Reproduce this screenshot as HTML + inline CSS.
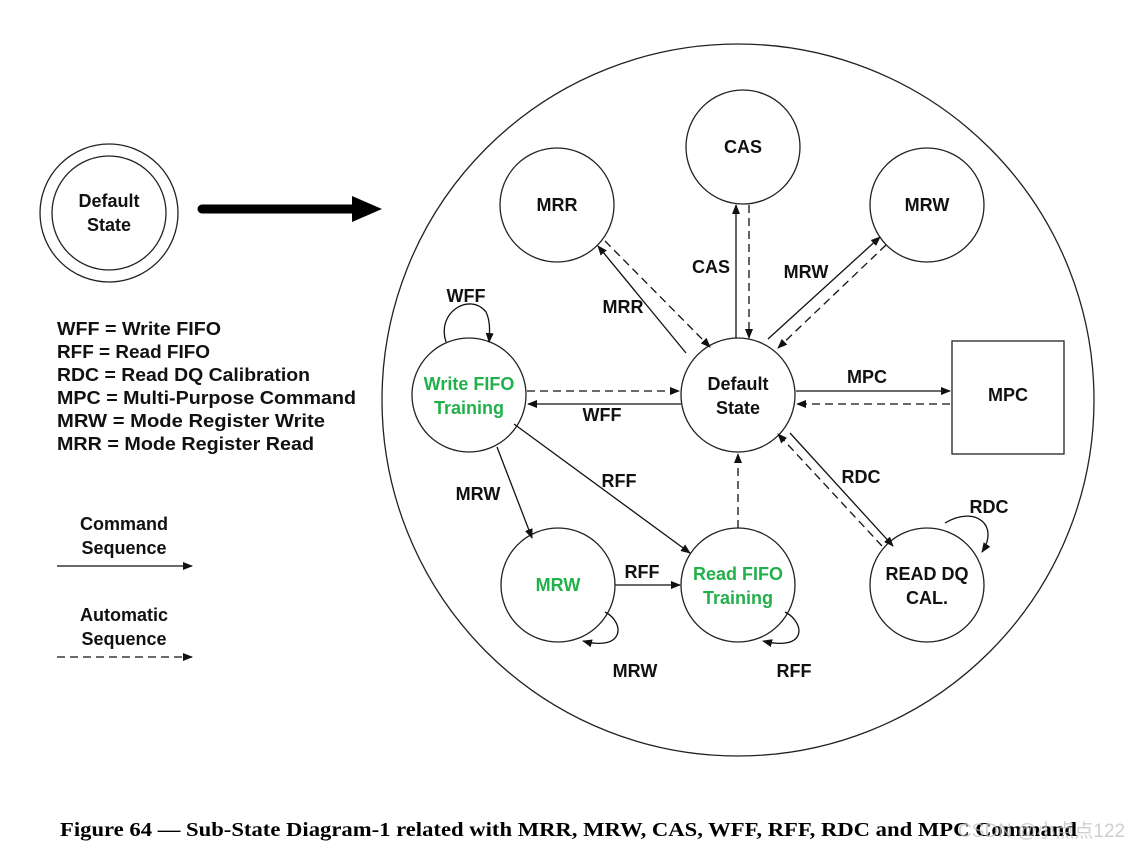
<!DOCTYPE html>
<html><head><meta charset="utf-8"><style>
html,body{margin:0;padding:0;background:#fff;}
svg{display:block;}
text{font-family:"Liberation Sans","Noto Sans CJK SC",sans-serif;font-weight:bold;fill:#111;}
.g{fill:#22b04b;}
</style></head><body>
<svg width="1144" height="849" viewBox="0 0 1144 849" xmlns="http://www.w3.org/2000/svg">
<defs>
<marker id="a" markerWidth="10" markerHeight="8" refX="9" refY="4" orient="auto" markerUnits="userSpaceOnUse">
<path d="M0,0 L10,4 L0,8 z" fill="#111"/></marker>
</defs>
<g fill="none" stroke="#222" stroke-width="1.3">
<circle cx="738" cy="400" r="356"/>
<circle cx="109" cy="213" r="69"/>
<circle cx="109" cy="213" r="57"/>
<circle cx="743" cy="147" r="57"/>
<circle cx="557" cy="205" r="57"/>
<circle cx="927" cy="205" r="57"/>
<circle cx="738" cy="395" r="57"/>
<circle cx="469" cy="395" r="57"/>
<rect x="952" y="341" width="112" height="113"/>
<circle cx="558" cy="585" r="57"/>
<circle cx="738" cy="585" r="57"/>
<circle cx="927" cy="585" r="57"/>
</g>
<line x1="202" y1="209" x2="358" y2="209" stroke="#000" stroke-width="9" stroke-linecap="round"/>
<path d="M352,196 L382,209 L352,222 z" fill="#000"/>
<g stroke="#111" stroke-width="1.3" fill="none" marker-end="url(#a)">
<line x1="686" y1="353" x2="598" y2="246"/>
<line x1="605" y1="241" x2="710" y2="347" stroke-dasharray="8,5"/>
<line x1="736" y1="338" x2="736" y2="205"/>
<line x1="749" y1="205" x2="749" y2="338" stroke-dasharray="8,5"/>
<line x1="768" y1="339" x2="880" y2="237"/>
<line x1="886" y1="245" x2="778" y2="348" stroke-dasharray="8,5"/>
<line x1="527" y1="391" x2="679" y2="391" stroke-dasharray="8,5"/>
<line x1="681" y1="404" x2="528" y2="404"/>
<line x1="796" y1="391" x2="950" y2="391"/>
<line x1="950" y1="404" x2="797" y2="404" stroke-dasharray="8,5"/>
<line x1="790" y1="433" x2="893" y2="546"/>
<line x1="882" y1="546" x2="778" y2="434" stroke-dasharray="8,5"/>
<line x1="497" y1="447" x2="532" y2="538"/>
<line x1="514" y1="424" x2="690" y2="553"/>
<line x1="615" y1="585" x2="680" y2="585"/>
<line x1="738" y1="528" x2="738" y2="454" stroke-dasharray="8,5"/>
<path d="M446,342 C436,312 470,292 486,312 C490,320 490,330 489,342"/>
<path d="M605,612 C625,622 625,652 583,641"/>
<path d="M785,612 C805,622 808,652 763,641"/>
<path d="M945,523 C975,505 1000,525 982,552"/>
<line x1="57" y1="566" x2="192" y2="566"/>
<line x1="57" y1="657" x2="192" y2="657" stroke-dasharray="8,5"/>
</g>
<g font-size="18">
<text x="109" y="207" text-anchor="middle">Default</text>
<text x="109" y="231" text-anchor="middle">State</text>
<text x="743" y="153" text-anchor="middle">CAS</text>
<text x="557" y="211" text-anchor="middle">MRR</text>
<text x="927" y="211" text-anchor="middle">MRW</text>
<text x="738" y="390" text-anchor="middle">Default</text>
<text x="738" y="414" text-anchor="middle">State</text>
<text class="g" x="469" y="390" text-anchor="middle">Write FIFO</text>
<text class="g" x="469" y="414" text-anchor="middle">Training</text>
<text x="1008" y="401" text-anchor="middle">MPC</text>
<text class="g" x="558" y="591" text-anchor="middle">MRW</text>
<text class="g" x="738" y="580" text-anchor="middle">Read FIFO</text>
<text class="g" x="738" y="604" text-anchor="middle">Training</text>
<text x="927" y="580" text-anchor="middle">READ DQ</text>
<text x="927" y="604" text-anchor="middle">CAL.</text>
<text x="623" y="313" text-anchor="middle">MRR</text>
<text x="711" y="273" text-anchor="middle">CAS</text>
<text x="806" y="278" text-anchor="middle">MRW</text>
<text x="466" y="302" text-anchor="middle">WFF</text>
<text x="602" y="421" text-anchor="middle">WFF</text>
<text x="867" y="383" text-anchor="middle">MPC</text>
<text x="861" y="483" text-anchor="middle">RDC</text>
<text x="478" y="500" text-anchor="middle">MRW</text>
<text x="619" y="487" text-anchor="middle">RFF</text>
<text x="642" y="578" text-anchor="middle">RFF</text>
<text x="635" y="677" text-anchor="middle">MRW</text>
<text x="794" y="677" text-anchor="middle">RFF</text>
<text x="989" y="513" text-anchor="middle">RDC</text>
<text x="57" y="335" textLength="164" lengthAdjust="spacingAndGlyphs">WFF = Write FIFO</text>
<text x="57" y="358" textLength="153" lengthAdjust="spacingAndGlyphs">RFF = Read FIFO</text>
<text x="57" y="381" textLength="253" lengthAdjust="spacingAndGlyphs">RDC = Read DQ Calibration</text>
<text x="57" y="404" textLength="299" lengthAdjust="spacingAndGlyphs">MPC = Multi-Purpose Command</text>
<text x="57" y="427" textLength="268" lengthAdjust="spacingAndGlyphs">MRW = Mode Register Write</text>
<text x="57" y="450" textLength="257" lengthAdjust="spacingAndGlyphs">MRR = Mode Register Read</text>
<text x="124" y="530" text-anchor="middle">Command</text>
<text x="124" y="554" text-anchor="middle">Sequence</text>
<text x="124" y="621" text-anchor="middle">Automatic</text>
<text x="124" y="645" text-anchor="middle">Sequence</text>
</g>
<text x="60" y="836" font-size="20" textLength="1017" lengthAdjust="spacingAndGlyphs" style="font-family:'Liberation Serif',serif;font-weight:bold;fill:#000">Figure 64 — Sub-State Diagram-1 related with MRR, MRW, CAS, WFF, RFF, RDC and MPC Command</text>
<text x="958" y="837" font-size="19" style="font-weight:normal;fill:#bbb;fill-opacity:0.7">CSDN @小点点122</text>
</svg>
</body></html>
